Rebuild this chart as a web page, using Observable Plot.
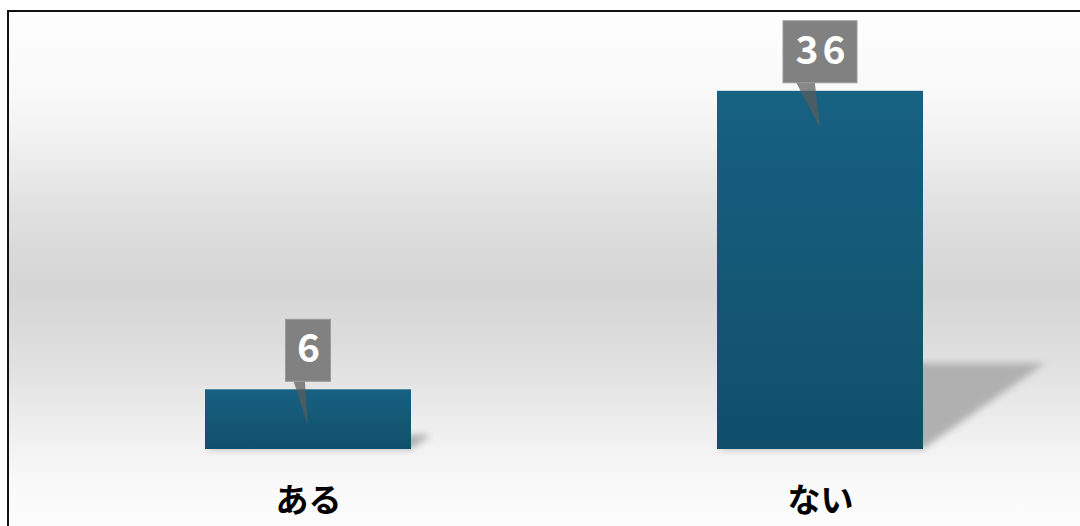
<!DOCTYPE html>
<html>
<head>
<meta charset="utf-8">
<script src="https://cdn.jsdelivr.net/npm/d3@7"></script>
<script src="https://cdn.jsdelivr.net/npm/@observablehq/plot@0.6"></script>
<style>
html, body { margin: 0; padding: 0; width: 1080px; height: 526px; overflow: hidden; background: #ffffff; }
#frame {
  position: absolute; left: 7px; top: 10px; width: 1100px; height: 600px;
  border: 2px solid #111111;
  background: linear-gradient(to bottom,
    #fefefe 0px, #f8f8f8 88px, #efefef 138px, #e2e2e2 188px, #d8d8d8 248px,
    #d6d6d6 278px, #dcdcdc 328px, #e8e8e8 388px, #f3f3f3 438px, #fbfbfb 488px, #ffffff 600px);
}
#chart { position: absolute; left: 0; top: 0; }
</style>
</head>
<body>
<div id="frame"></div>
<div id="chart"></div>
<script>
const categories = ["ある", "ない"];
const values = [6, 36];

const data = categories.map((category, i) => ({category, value: values[i]}));
const FONT = "'Noto Sans CJK JP', 'Noto Sans', sans-serif";

function rectsOf(g) {
  return Array.from(g.querySelectorAll("rect")).map(r => ({
    x: +r.getAttribute("x"), y: +r.getAttribute("y"),
    w: +r.getAttribute("width"), h: +r.getAttribute("height")
  }));
}

// floor shadow, skewed to the right, derived from the bar geometry
const shadowMark = Plot.barY(data, {
  x: "category", y: "value",
  render(index, scales, vals, dim, ctx, next) {
    const g = next(index, scales, vals, dim, ctx);
    const out = d3.create("svg:g").attr("filter", "url(#shadowBlur)");
    for (const r of rectsOf(g)) {
      const b = r.y + r.h, hs = r.h * 0.24, dx = hs * 1.42;
      out.append("path")
        .attr("d", `M${r.x},${b}L${r.x + r.w},${b}L${r.x + r.w + dx},${b - hs}L${r.x + dx},${b - hs}Z`)
        .attr("fill", "#b0b0b0");
    }
    return out.node();
  }
});

// callout boxes with pointers
const calloutMark = Plot.barY(data, {
  x: "category", y: "value",
  render(index, scales, vals, dim, ctx, next) {
    const g = next(index, scales, vals, dim, ctx);
    const out = d3.create("svg:g");
    rectsOf(g).forEach((r, j) => {
      const label = String(data[index[j]].value);
      const w = 16 + 29 * label.length;
      const cx = r.x + r.w / 2, top = r.y;
      const left = cx - w / 2;
      out.append("path")
        .attr("d", `M${left + 0.18 * w},${top - 8}L${left + 0.43 * w},${top - 8}L${cx},${top + 37}Z`)
        .attr("fill", "#5c5c5c").attr("fill-opacity", 0.72);
      out.append("rect")
        .attr("x", left).attr("y", top - 70).attr("width", w).attr("height", 62)
        .attr("fill", "#818181").attr("stroke", "#9a9a9a").attr("stroke-width", 1);
    });
    return out.node();
  }
});

const svg = Plot.plot({
  width: 1080,
  height: 526,
  marginLeft: 51,
  marginRight: 4,
  marginTop: 51,
  marginBottom: 77,
  style: {background: "transparent", fontFamily: FONT, overflow: "visible"},
  x: {domain: categories, paddingInner: 0.598, paddingOuter: 0.299, axis: null},
  y: {domain: [0, 40], axis: null},
  marks: [
    shadowMark,
    Plot.barY(data, {x: "category", y: "value", fill: "url(#barGrad)"}),
    calloutMark,
    Plot.text(data, {
      x: "category", y: "value", text: d => String(d.value), dy: -40, dx: 2,
      fill: "#ffffff", fontSize: 39, fontWeight: "bold", fontFamily: FONT
    }),
    Plot.text(data, {
      x: "category", y: () => 0, text: "category", dy: 52,
      fill: "#000000", fontSize: 33, fontWeight: "bold", fontFamily: FONT
    })
  ]
});

const defs = d3.select(svg).insert("defs", ":first-child");
const grad = defs.append("linearGradient").attr("id", "barGrad")
  .attr("x1", 0).attr("y1", 0).attr("x2", 0).attr("y2", 1);
grad.append("stop").attr("offset", "0%").attr("stop-color", "#176182");
grad.append("stop").attr("offset", "100%").attr("stop-color", "#114f6b");
const filt = defs.append("filter").attr("id", "shadowBlur")
  .attr("x", "-20%").attr("y", "-30%").attr("width", "140%").attr("height", "160%");
filt.append("feGaussianBlur").attr("stdDeviation", 3.5);

d3.select(svg).selectAll("text").filter(function() { return /^\d+$/.test(this.textContent); })
  .style("letter-spacing", "4px");

document.getElementById("chart").appendChild(svg);
</script>
</body>
</html>
